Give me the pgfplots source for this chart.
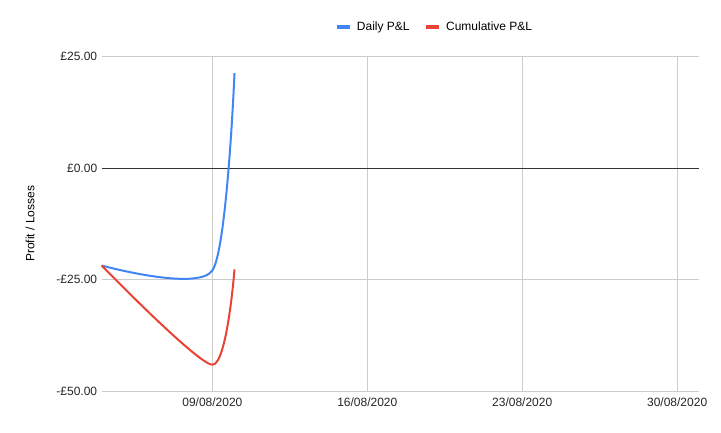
\documentclass[border=0pt]{standalone}
\usepackage{pgfplots}
\pgfplotsset{compat=1.18}
\usepackage{fontspec}
\setmainfont{Liberation Sans}
\definecolor{gblue}{HTML}{4285F4}
\definecolor{gred}{HTML}{EA4335}
\definecolor{ggrid}{HTML}{CCCCCC}
\begin{document}
\begin{tikzpicture}
\begin{axis}[
  name=main,
  scale only axis, width=597.6bp, height=334.3bp,
  xmin=4, xmax=31, ymin=-50, ymax=25,
  xtick={9,16,23,30},
  xticklabels={09/08/2020,16/08/2020,23/08/2020,30/08/2020},
  ytick={-50,-25,25},
  yticklabels={-£50.00,-£25.00,£25.00},
  extra y ticks={0}, extra y tick labels={£0.00},
  extra y tick style={grid style={draw=black!80, line width=1bp}},
  major tick length=0pt,
  grid=major,
  grid style={draw=ggrid, line width=1bp},
  axis line style={draw=none},
  tick label style={font=\fontsize{12bp}{14bp}\selectfont, text=black!85},
  yticklabel style={xshift=-1bp},
  xticklabel style={yshift=-3bp},
  ylabel={Profit / Losses},
  ylabel style={font=\fontsize{12bp}{14bp}\selectfont, at={(axis description cs:-0.12,0.5)}, anchor=center, rotate=0},
  legend columns=2,
  legend style={draw=none, fill=none, at={(axis description cs:0.557,1.089)}, anchor=center,
    font=\fontsize{12bp}{14bp}\selectfont, column sep=0pt, inner sep=0pt,
    /tikz/every odd column/.append style={column sep=3.5bp},
    /tikz/every even column/.append style={column sep=12.5bp}},
  legend image code/.code={\draw[line width=3.5bp,#1] (0bp,0bp) -- (13bp,0bp);},
  clip=false,
]
\addplot[gblue, line width=2bp, smooth, tension=0.4] coordinates {(4,-21.85) (9,-22.97) (10,21.3)};
\addlegendentry{Daily P\&L}
\addplot[gred, line width=2bp, smooth, tension=0.4] coordinates {(4,-21.85) (9,-44.1) (10,-22.7)};
\addlegendentry{Cumulative P\&L}
\end{axis}
\pgfresetboundingbox
\path[use as bounding box] ([xshift=-101.7bp,yshift=-42bp]main.south west) rectangle ([xshift=619.3bp,yshift=391bp]main.south west);
\end{tikzpicture}
\end{document}
